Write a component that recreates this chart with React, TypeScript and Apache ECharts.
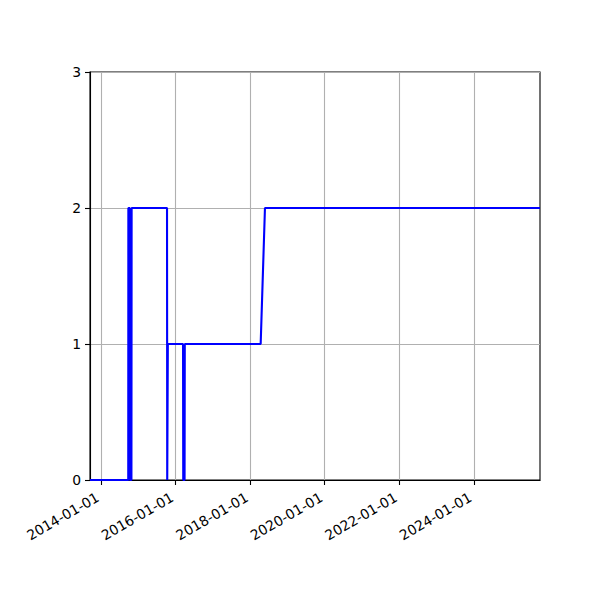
import React, { useEffect, useRef } from "react";
import * as echarts from "echarts";

const dates = [
  "2013-09-13",
  "2014-09-23",
  "2014-09-24",
  "2014-10-08",
  "2014-10-10",
  "2014-10-24",
  "2014-10-26",
  "2015-10-08",
  "2015-10-10",
  "2015-10-16",
  "2016-03-13",
  "2016-03-15",
  "2016-03-28",
  "2016-03-30",
  "2018-04-13",
  "2018-05-25",
  "2025-10-11",
];
const values = [0, 0, 2, 2, 0, 0, 2, 2, 0, 1, 1, 0, 0, 1, 1, 2, 2];

const xTicks = ["2014-01-01", "2016-01-01", "2018-01-01", "2020-01-01", "2022-01-01", "2024-01-01"];
const yTicks = [0, 1, 2, 3];
const xMin = "2013-09-13";
const xMax = "2025-10-11";

const toTs = (s: string) => {
  const [y, m, d] = s.split("-").map(Number);
  return Date.UTC(y, m - 1, d);
};
const pad = (n: number) => (n < 10 ? "0" + n : "" + n);
const fmt = (v: number) => {
  const d = new Date(v);
  return d.getUTCFullYear() + "-" + pad(d.getUTCMonth() + 1) + "-" + pad(d.getUTCDate());
};

export default function App() {
  const ref = useRef<HTMLDivElement>(null);
  useEffect(() => {
    document.body.style.margin = "0";
    const chart = echarts.init(ref.current!, null, { renderer: "svg" });
    const tickVals = xTicks.map(toTs);
    chart.setOption({
      animation: false,
      backgroundColor: "#ffffff",
      textStyle: { fontFamily: "DejaVu Sans" },
      grid: {
        left: 90,
        right: 60,
        top: 72,
        bottom: 120,
        show: true,
        borderColor: "#000000",
        borderWidth: 1.1,
        backgroundColor: "transparent",
      },
      xAxis: {
        type: "value",
        min: toTs(xMin),
        max: toTs(xMax),
        axisLine: { show: true, lineStyle: { color: "#000000", width: 1.1 } },
        axisTick: {
          show: true,
          inside: false,
          length: 5,
          lineStyle: { color: "#000000", width: 1.1 },
          customValues: tickVals,
        },
        axisLabel: {
          customValues: tickVals,
          formatter: (v: number) => fmt(v),
          rotate: 30,
          fontSize: 13.9,
          color: "#000000",
          fontFamily: "DejaVu Sans",
          margin: 14,
          padding: [0, 4, 0, 0],
          hideOverlap: false,
        },
        splitLine: {
          show: true,
          customValues: tickVals,
          lineStyle: { color: "#b0b0b0", width: 1.1 },
        },
      },
      yAxis: {
        type: "value",
        min: yTicks[0],
        max: yTicks[yTicks.length - 1],
        interval: 1,
        axisLine: { show: true, lineStyle: { color: "#000000", width: 1.1 } },
        axisTick: { show: true, length: 5, lineStyle: { color: "#000000", width: 1.1 } },
        axisLabel: {
          fontSize: 13.9,
          color: "#000000",
          fontFamily: "DejaVu Sans",
          margin: 9,
        },
        splitLine: { show: true, lineStyle: { color: "#b0b0b0", width: 1.1 } },
      },
      series: [
        {
          type: "line",
          data: dates.map((d, i) => [toTs(d), values[i]]),
          showSymbol: false,
          symbol: "none",
          lineStyle: { color: "#0000ff", width: 2.1 },
          itemStyle: { color: "#0000ff" },
          clip: true,
        },
      ],
    });
    return () => chart.dispose();
  }, []);
  return <div ref={ref} style={{ width: 600, height: 600 }} />;
}
